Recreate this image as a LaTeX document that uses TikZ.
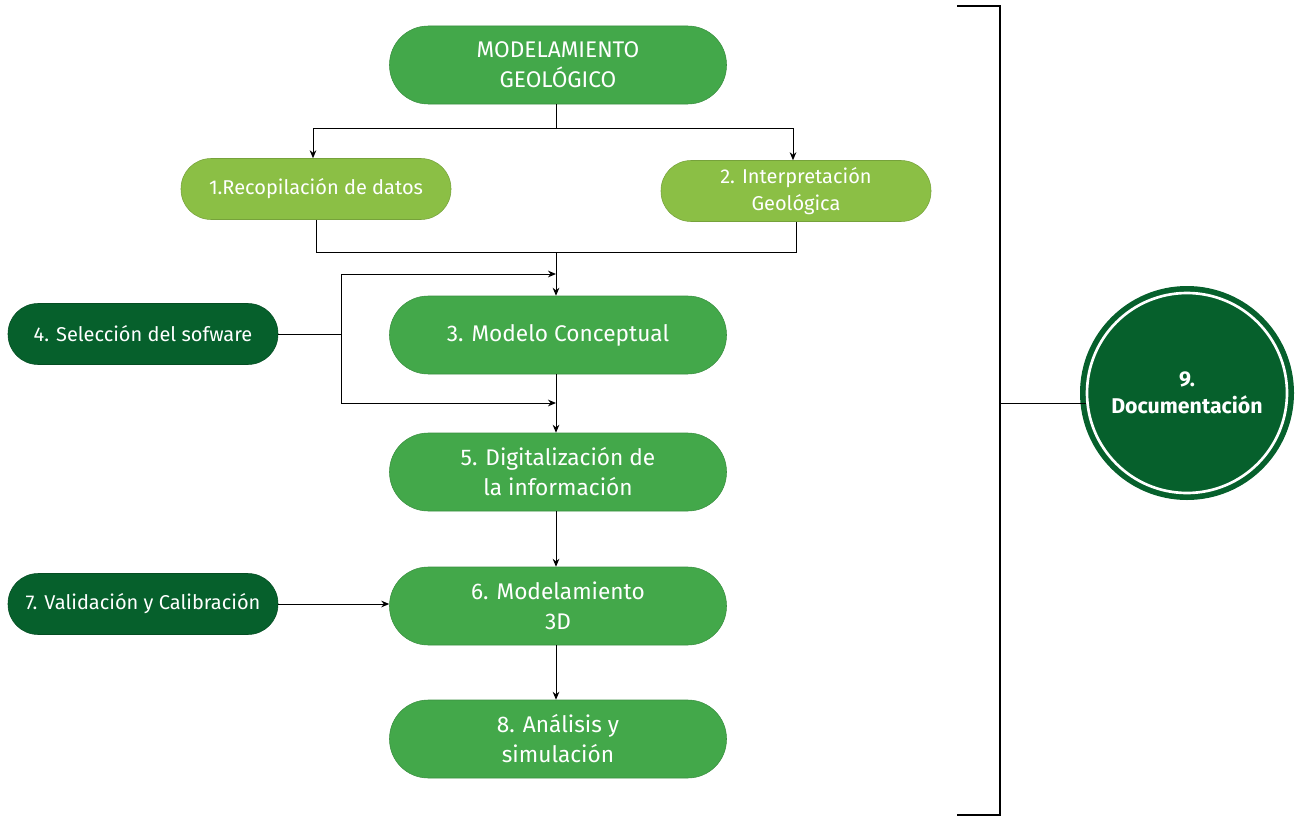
\documentclass[tikz,border=0pt]{standalone}
\usepackage{fontspec}
\setmainfont{Fira Sans}
\usetikzlibrary{arrows.meta}
\definecolor{midgreen}{RGB}{67,168,74}
\definecolor{lightgreen}{RGB}{139,191,69}
\definecolor{darkgreen}{RGB}{6,96,44}
\tikzset{
  bigbox/.style={fill=midgreen, draw=midgreen!85!black, line width=0.4pt, rounded corners=29pt, minimum width=252.75pt, minimum height=58.5pt, inner sep=0pt, align=center, text=white, font=\fontsize{17}{22.5}\selectfont},
  subbox/.style={fill=lightgreen, draw=lightgreen!85!black, line width=0.4pt, rounded corners=22.5pt, minimum width=202.5pt, minimum height=45.75pt, inner sep=0pt, align=center, text=white, font=\fontsize{15}{20}\selectfont},
  sidebox/.style={subbox, fill=darkgreen, draw=darkgreen!80!black},
  docring/.style={circle, fill=darkgreen, draw=white, line width=2pt, minimum size=150pt, inner sep=0pt, align=center, text=white, font=\fontsize{16}{20}\selectfont\bfseries, preaction={draw=darkgreen, line width=10.5pt}},
  link/.style={line width=0.75pt, -{Stealth[length=6pt,width=5pt]}}
}
\begin{document}
\begin{tikzpicture}[x=0.75pt,y=0.75pt,yscale=-1,xscale=1]
\useasboundingbox (0,0) rectangle (1299,817);

% Nodes
\node[bigbox] (geo) at (558,65) {MODELAMIENTO\\GEOLÓGICO};
\node[subbox] (rec) at (316,189) {1.Recopilación de datos};
\node[subbox] (int) at (796,191) {2. Interpretación\\Geológica};
\node[bigbox] (con) at (558,335) {3. Modelo Conceptual};
\node[sidebox] (sof) at (143,334) {4. Selección del sofware};
\node[bigbox] (dig) at (558,472) {5. Digitalización de\\la información};
\node[bigbox] (mod) at (558,606) {6. Modelamiento\\3D};
\node[sidebox] (val) at (143,604) {7. Validación y Calibración};
\node[bigbox] (ana) at (558,739) {8. Análisis y\\simulación};
\node[docring] (doc) at (1187,393) {9.\\Documentación};

% Branch points
\coordinate (split) at (556,128);
\coordinate (join) at (556,252);
\coordinate (loop) at (341,334);
\coordinate (inup) at (556,274);
\coordinate (indown) at (556,403);
\coordinate (brtop) at (957,6);
\coordinate (brbot) at (957,815);
\coordinate (brmid) at (1000,403);

%Straight Lines
\draw[line width=0.75pt] (geo.south -| split) -- (split);
\draw[link] (split) -| (rec.north -| 313,0);
\draw[link] (split) -| (int.north -| 793,0);
\draw[line width=0.75pt] (rec.south) |- (join);
\draw[line width=0.75pt] (int.south) |- (join);
\draw[link] (join) -- (con.north -| join);
\draw[line width=0.75pt] (sof) -- (loop);
\draw[link] (loop) |- (inup);
\draw[link] (loop) |- (indown);
\draw[link] (con.south -| join) -- (dig.north -| join);
\draw[link] (dig.south -| join) -- (mod.north -| join);
\draw[link] (mod.south -| join) -- (ana.north -| join);
\draw[link] (val) -- (mod.west |- val);

% Bracket
\draw[line width=1.5pt] (brtop) -- (1000,6) -- (1000,815) -- (brbot);
\draw[line width=0.75pt] (brmid) -- (brmid -| doc.west);

\end{tikzpicture}
\end{document}
